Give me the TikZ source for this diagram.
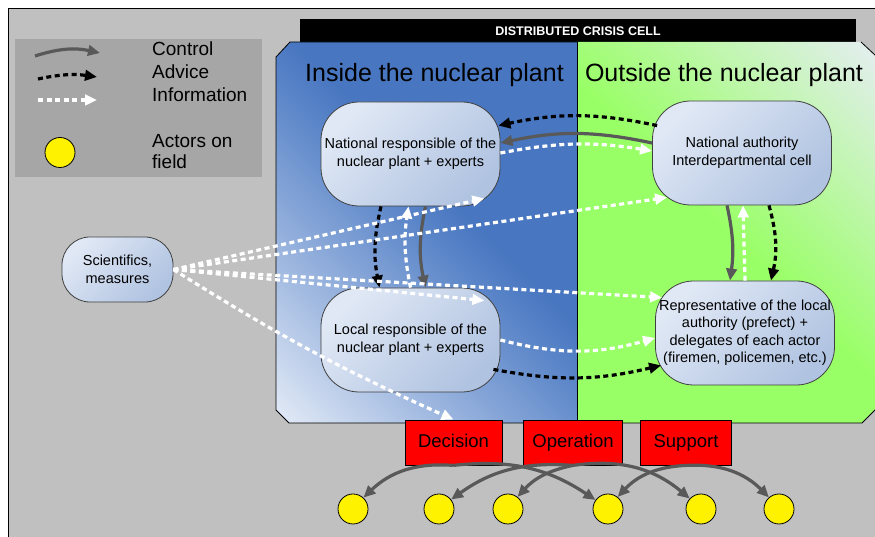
\documentclass[tikz,border=0pt]{standalone}
\usepackage{fontspec}
\setmainfont{Liberation Sans}
\usetikzlibrary{arrows.meta}

\definecolor{bggray}{HTML}{C0C0C0}
\definecolor{leggray}{HTML}{A6A6A6}
\definecolor{ctrlgray}{HTML}{595959}
\definecolor{inpale}{HTML}{E2EAF6}
\definecolor{inmid}{HTML}{93AFDC}
\definecolor{indeep}{HTML}{5A85C8}
\definecolor{indark}{HTML}{4876C0}
\definecolor{outgreen}{HTML}{99FF66}
\definecolor{outpale}{HTML}{E4EEF0}
\definecolor{boxlight}{HTML}{E0E8F5}
\definecolor{boxdark}{HTML}{B0C3E1}

\pgfdeclareverticalshading{inshade}{100bp}{color(0bp)=(inpale); color(15bp)=(inpale); color(35bp)=(inmid); color(50bp)=(indeep); color(56bp)=(indark); color(100bp)=(indark)}
\pgfdeclareverticalshading{outshade}{100bp}{color(0bp)=(outgreen); color(50bp)=(outgreen); color(85bp)=(outpale); color(100bp)=(outpale)}

\tikzset{
  headtip/.style={-{Triangle[length=12pt,width=10.5pt]}},
  ctrl/.style={headtip, draw=ctrlgray, line width=3.2pt},
  advice/.style={headtip, draw=black, line width=3.2pt, dash pattern=on 5pt off 3.5pt},
  info/.style={headtip, draw=white, line width=3.2pt, dash pattern=on 5pt off 3.5pt},
  unit/.style={draw=black!75, line width=0.8pt, rounded corners=38pt, minimum width=179pt,
    minimum height=104pt, inner sep=0pt, align=center, font=\fontsize{14.5}{17.5}\selectfont,
    top color=boxlight, bottom color=boxdark, shading angle=45},
  task/.style={draw=black, line width=0.8pt, fill=red, minimum height=45pt, inner sep=0pt,
    text height=13.5pt, text depth=4pt, font=\fontsize{18.5}{22}\selectfont},
  actor/.style={circle, draw=black, line width=0.8pt, fill=yellow, minimum size=30pt, inner sep=0pt},
  legtext/.style={font=\fontsize{19}{22}\selectfont, inner sep=0pt, anchor=base west},
  sidetitle/.style={font=\fontsize{25}{30}\selectfont, inner sep=0pt, anchor=base},
}

\begin{document}
\begin{tikzpicture}[x=1pt,y=1pt]
	\useasboundingbox (0,0) rectangle (875,537);
	\fill[white] (0,0) rectangle (875,537);
	\filldraw[fill=bggray, draw=black, line width=1pt] (8.5,-5) rectangle (880,528.5);
	
	% legend
	\fill[leggray] (15,360) rectangle (262,498);
	\coordinate (lc1) at (35,481); \coordinate (lc2) at (100,484);
	\coordinate (la1) at (38,458); \coordinate (la2) at (97,460);
	\coordinate (li1) at (38,437); \coordinate (li2) at (97,437);
	\draw[ctrl] (lc1) to[bend left=15] (lc2);
	\draw[advice] (la1) to[bend left=10] (la2);
	\draw[info] (li1) -- (li2);
	\node[legtext] (lctrl) at (152,481) {Control};
	\node[legtext] (ladv) at (152,458) {Advice};
	\node[legtext] (linfo) at (152,435) {Information};
	\node[actor] (lactor) at (60,384.5) {};
	\node[legtext] (lact1) at (152,389) {Actors on};
	\node[legtext] (lact2) at (152,368) {field};
	
	% crisis cell
	\node[fill=black, text=white, font=\bfseries\fontsize{12.5}{15}\selectfont, minimum width=556pt,
		minimum height=24pt, inner sep=0pt] (cell) at (578,506) {DISTRIBUTED CRISIS CELL};
	\shade[shading=inshade, shading angle=-45] (276,480) -- (290,495) -- (577,495) -- (577,114) -- (289,114) -- (276,127) -- cycle;
	\shade[shading=outshade, shading angle=-45] (577,495) -- (861,495) -- (876,481) -- (876,128) -- (862,114) -- (577,114) -- cycle;
	\draw[line width=0.8pt] (577,495) -- (290,495) -- (276,480) -- (276,127) -- (289,114) -- (862,114) -- (876,128);
	\draw[line width=0.8pt] (861,495) -- (876,481);
	\draw[line width=0.8pt] (577,495) -- (577,114);
	\node[sidetitle] (inside) at (434.5,455) {Inside the nuclear plant};
	\node[sidetitle] (outside) at (724,455.5) {Outside the nuclear plant};
	
	\node[unit] (nr) at (410.5,383) {National responsible of the\\nuclear plant + experts};
	\node[unit] (lr) at (410.5,197) {Local responsible of the\\nuclear plant + experts};
	\node[unit] (na) at (742,384) {National authority\\Interdepartmental cell};
	\node[unit] (rl) at (745,204) {Representative of the local\\authority (prefect) +\\delegates of each actor\\(firemen, policemen, etc.)};
	\node[unit, minimum width=111pt, minimum height=65pt, rounded corners=28pt] (sci) at (117.5,267.5) {Scientifics,\\measures};
	
	\node[task, minimum width=97pt] (dec) at (453.5,94.5) {Decision};
	\node[task, minimum width=99pt] (ope) at (573,94.5) {Operation};
	\node[task, minimum width=91pt] (sup) at (686,94.5) {Support};
	\foreach \x [count=\i] in {353,439,508,608,701,779}
		\node[actor] (a\i) at (\x,28) {};
	
	% national level
	\draw[advice] ([shift={(5,-25)}]na.north west) to[bend right=12] ([shift={(-2,-24)}]nr.north east);
	\draw[ctrl] ([yshift=10]na.west) to[bend right=12] ([yshift=11]nr.east);
	\draw[info] ([yshift=1]nr.east) to[bend left=10] ([yshift=2]na.west);
	
	% inside
	\draw[advice] ([xshift=-29.5]nr.south) to[bend right=12] ([xshift=-31]lr.north);
	\draw[info] (lr.north) to[bend left=10] ([xshift=-2]nr.south);
	\draw[ctrl] ([xshift=15]nr.south) to[bend right=12] ([xshift=15]lr.north);
	
	% outside
	\draw[ctrl] ([xshift=-15]na.south) to[bend left=10] ([xshift=-15]rl.north);
	\draw[info] (rl.north) -- ([xshift=1]na.south);
	\draw[advice] ([xshift=27]na.south) to[bend left=14] ([xshift=26]rl.north);
	
	% local level
	\draw[info] (lr.east) to[bend right=15] ([yshift=-5]rl.west);
	\draw[advice] ([shift={(-7,23)}]lr.south east) to[bend right=12] ([shift={(6,20)}]rl.south west);
	
	% scientifics
	\draw[info] (sci.east) -- ([shift={(-16,8)}]nr.south east);
	\draw[info] (sci.east) -- ([shift={(15,8)}]na.south west);
	\draw[info] (sci.east) -- ([shift={(-16,-13)}]lr.north east);
	\draw[info] (sci.east) -- ([shift={(7,-17)}]rl.north west);
	\draw[info] (sci.east) to[bend right=4] (dec.north);
	
	% field
	\draw[ctrl] (dec.south) to[bend right=24] (a1);
	\draw[ctrl] (dec.south) to[bend left=20] (a4);
	\draw[ctrl] (ope.south) to[bend right=20] (a2);
	\draw[ctrl] (ope.south) to[bend right=18] (a3);
	\draw[ctrl] (ope.south) to[bend left=24] (a5);
	\draw[ctrl] (sup.south) to[bend right=22] (a4);
	\draw[ctrl] (sup.south) to[bend left=24] (a6);
\end{tikzpicture}
\end{document}
